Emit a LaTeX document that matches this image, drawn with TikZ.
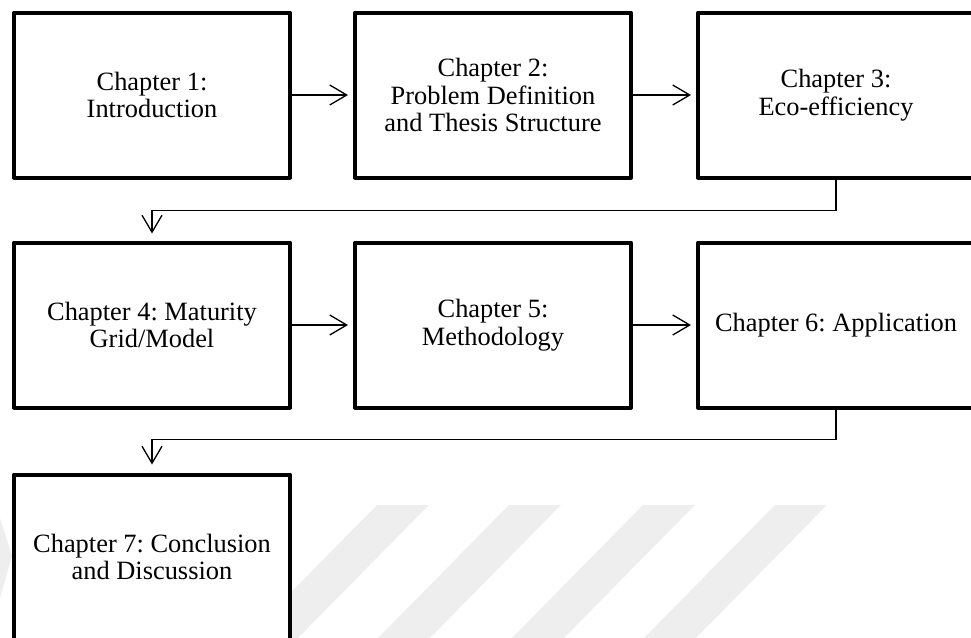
\documentclass[tikz,border=0pt]{standalone}
\usepackage{fontspec}
\setmainfont{Liberation Serif}
\usetikzlibrary{arrows.meta}
\frenchspacing

\definecolor{stripegray}{RGB}{238,238,238}

\tikzset{
  chapterbox/.style={draw=black, fill=white, line width=4pt, line join=round,
    rectangle, minimum width=276pt, minimum height=165pt, inner sep=4pt,
    align=center, font=\fontsize{26.4}{27.5}\selectfont},
  conn/.style={draw=black, line width=1.3pt,
    -{Straight Barb[length=17pt,width=20pt,line width=1.3pt]}},
  stripe/.style={fill=stripegray, draw=none}
}

\begin{document}
\begin{tikzpicture}[x=1pt, y=-1pt]
  \useasboundingbox (0,0) rectangle (971,637);
  \clip (0,0) rectangle (971,637);

  % faint diagonal stripes in the lower part
  \foreach \s in {377,509,643,775}{
    \fill[stripe] (\s,505) -- (\s+52,505) -- (\s+52-138,645) -- (\s-138,645) -- cycle;
  }
  \fill[stripe] (0,518) -- (12,556) -- (0,598) -- cycle;

  % chapter boxes
  \node[chapterbox] (b1) at (152,95)  {Chapter 1:\\Introduction};
  \node[chapterbox] (b2) at (493,95)  {Chapter 2:\\Problem Definition\\and Thesis Structure};
  \node[chapterbox] (b3) at (836,95)  {Chapter 3:\\Eco-efficiency};
  \node[chapterbox] (b4) at (152,325) {Chapter 4: Maturity\\Grid/Model};
  \node[chapterbox] (b5) at (493,325) {Chapter 5:\\Methodology};
  \node[chapterbox] (b6) at (836,325) {Chapter 6: Application};
  \node[chapterbox] (b7) at (152,557) {Chapter 7: Conclusion\\and Discussion};

  % connectors
  \draw[conn, shorten >=5pt] (b1.east) -- (b2.west);
  \draw[conn, shorten >=5pt] (b2.east) -- (b3.west);
  \draw[conn, shorten >=7pt] (b3.south) -- ++(0,31) -| (b4.north);
  \draw[conn, shorten >=5pt] (b4.east) -- (b5.west);
  \draw[conn, shorten >=5pt] (b5.east) -- (b6.west);
  \draw[conn, shorten >=8pt] (b6.south) -- ++(0,30) -| (b7.north);
\end{tikzpicture}
\end{document}
